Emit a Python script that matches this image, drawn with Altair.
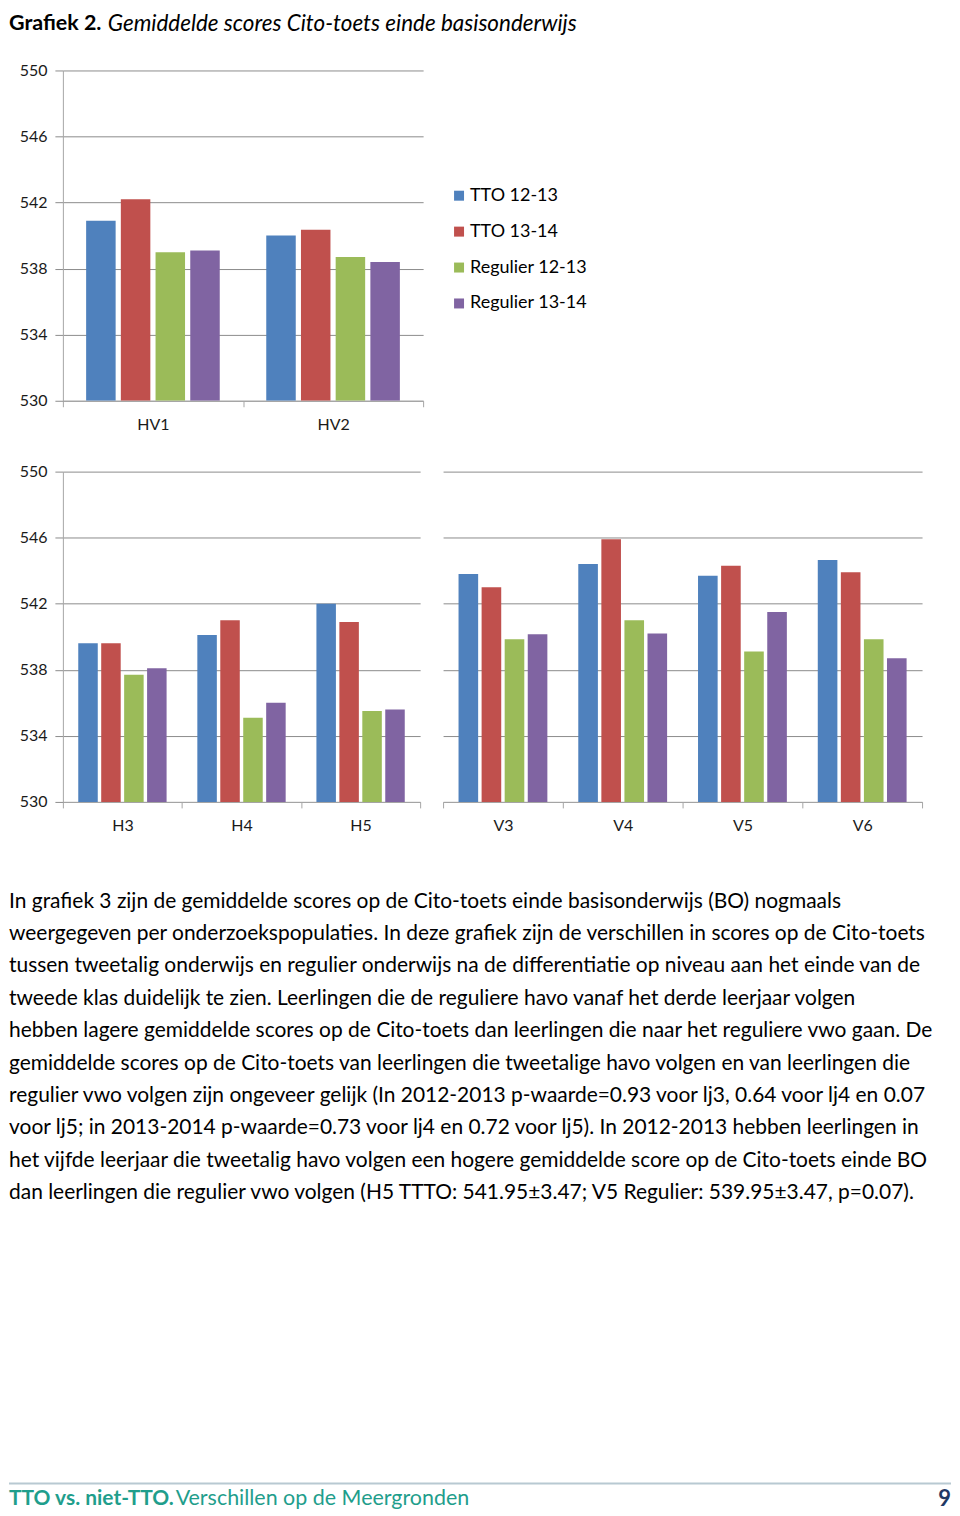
import altair as alt
import pandas as pd

FONT = "Lato"

series = ["TTO 12-13", "TTO 13-14", "Regulier 12-13", "Regulier 13-14"]
colors = ["#4F81BD", "#C0504D", "#9BBB59", "#8064A2"]
y_ticks = [530, 534, 538, 542, 546, 550]

hv_groups = ["HV1", "HV2"]
hv_tto_1213 = [540.9, 540.0]
hv_tto_1314 = [542.2, 540.35]
hv_reg_1213 = [539.0, 538.7]
hv_reg_1314 = [539.1, 538.4]

h_groups = ["H3", "H4", "H5"]
h_tto_1213 = [539.6, 540.1, 542.0]
h_tto_1314 = [539.6, 541.0, 540.9]
h_reg_1213 = [537.7, 535.1, 535.5]
h_reg_1314 = [538.1, 536.0, 535.6]

v_groups = ["V3", "V4", "V5", "V6"]
v_tto_1213 = [543.8, 544.4, 543.7, 544.65]
v_tto_1314 = [543.0, 545.9, 544.3, 543.9]
v_reg_1213 = [539.85, 541.0, 539.1, 539.85]
v_reg_1314 = [540.15, 540.2, 541.5, 538.7]

title_bold = "Grafiek 2."
title_rest = "Gemiddelde scores Cito-toets einde basisonderwijs"

paragraph_lines = [
    "In grafiek 3 zijn de gemiddelde scores op de Cito-toets einde basisonderwijs (BO) nogmaals",
    "weergegeven per onderzoekspopulaties. In deze grafiek zijn de verschillen in scores op de Cito-toets",
    "tussen tweetalig onderwijs en regulier onderwijs na de differentiatie op niveau aan het einde van de",
    "tweede klas duidelijk te zien. Leerlingen die de reguliere havo vanaf het derde leerjaar volgen",
    "hebben lagere gemiddelde scores op de Cito-toets dan leerlingen die naar het reguliere vwo gaan. De",
    "gemiddelde scores op de Cito-toets van leerlingen die tweetalige havo volgen en van leerlingen die",
    "regulier vwo volgen zijn ongeveer gelijk (In 2012-2013 p-waarde=0.93 voor lj3, 0.64 voor lj4 en 0.07",
    "voor lj5; in 2013-2014 p-waarde=0.73 voor lj4 en 0.72 voor lj5). In 2012-2013 hebben leerlingen in",
    "het vijfde leerjaar die tweetalig havo volgen een hogere gemiddelde score op de Cito-toets einde BO",
    "dan leerlingen die regulier vwo volgen (H5 TTTO: 541.95\u00b13.47; V5 Regulier: 539.95\u00b13.47, p=0.07).",
]
footer_bold = "TTO vs. niet-TTO."
footer_rest = "Verschillen op de Meergronden"
page_number = "9"


def to_long(groups, cols):
    rows = []
    for s, vals in zip(series, cols):
        for g, v in zip(groups, vals):
            rows.append({"group": g, "series": s, "score": v})
    return pd.DataFrame(rows)


GRID = "#8c8c8c"
DOMAIN = "#a6a6a6"
LABEL = "#1a1a1a"
color_scale = alt.Scale(domain=series, range=colors)


def left_y_axis(min_extent):
    return alt.Axis(values=y_ticks, format="d", grid=True, gridColor=GRID,
                    domainColor=DOMAIN, tickColor=GRID, tickSize=8, labelPadding=8,
                    labelFont=FONT, labelFontSize=16, labelColor=LABEL,
                    minExtent=min_extent)


def bar_chart(df, groups, width, y_axis, legend):
    return alt.Chart(df).mark_bar(clip=True).encode(
        x=alt.X("group:N", sort=groups, title=None,
                scale=alt.Scale(paddingInner=0, paddingOuter=0),
                axis=alt.Axis(labelAngle=0, tickBand="extent", tickSize=6,
                              tickColor=DOMAIN, domainColor=DOMAIN, labelPadding=10,
                              labelFont=FONT, labelFontSize=16, labelColor=LABEL,
                              grid=False)),
        xOffset=alt.XOffset("series:N", sort=series,
                            scale=alt.Scale(paddingInner=0.15, paddingOuter=0.67)),
        y=alt.Y("score:Q", title=None,
                scale=alt.Scale(domain=[530, 550], zero=False, nice=False, clamp=True),
                axis=y_axis),
        color=alt.Color("series:N", sort=series, scale=color_scale, legend=legend),
    ).properties(width=width, height=331)


legend_top = alt.Legend(title=None, orient="none", legendX=388, legendY=116.5,
                        symbolType="square", symbolSize=100, symbolStrokeWidth=0,
                        labelFont=FONT, labelFontSize=18, labelColor="#000",
                        rowPadding=18, labelOffset=2, padding=0)

top_bars = bar_chart(to_long(hv_groups, [hv_tto_1213, hv_tto_1314, hv_reg_1213, hv_reg_1314]),
                     hv_groups, 361, left_y_axis(54), legend_top)

t_bold = alt.Chart(pd.DataFrame({"t": [title_bold]})).mark_text(
    align="left", baseline="middle", font=FONT, fontSize=21.5, fontWeight="bold", color="#000"
).encode(x=alt.value(-54), y=alt.value(-47), text="t:N")
t_rest = alt.Chart(pd.DataFrame({"t": [title_rest]})).mark_text(
    align="left", baseline="middle", font=FONT, fontSize=22.5, fontStyle="italic", color="#000"
).encode(x=alt.value(45), y=alt.value(-47), text="t:N")

row_a = alt.layer(top_bars, t_bold, t_rest).properties(width=361, height=331)

h_chart = bar_chart(to_long(h_groups, [h_tto_1213, h_tto_1314, h_reg_1213, h_reg_1314]),
                    h_groups, 358, left_y_axis(53), None)
v_axis = alt.Axis(orient="right", values=y_ticks, grid=True, gridColor=GRID, domain=False,
                  ticks=False, labelOpacity=0, labelPadding=0, labelFontSize=16,
                  labelFont=FONT, minExtent=0)
v_chart = bar_chart(to_long(v_groups, [v_tto_1213, v_tto_1314, v_reg_1213, v_reg_1314]),
                    v_groups, 480, v_axis, None)

row_b = alt.hconcat(h_chart, v_chart, spacing=21).resolve_scale(
    color="independent", xOffset="independent", x="independent", y="independent"
).resolve_legend(color="independent")

LEFT = -54
para_df = pd.DataFrame({"line": list(range(len(paragraph_lines))), "text": paragraph_lines})
para = alt.Chart(para_df).mark_text(
    align="left", baseline="middle", font=FONT, fontSize=21, color="#000"
).encode(
    x=alt.value(LEFT),
    y=alt.Y("line:Q", scale=alt.Scale(domain=[0, 9], range=[58, 350]), axis=None),
    text="text:N",
)
rule = alt.Chart(pd.DataFrame({"a": [0]})).mark_rule(color="#b8c9d2", strokeWidth=2).encode(
    x=alt.value(LEFT), x2=alt.value(890), y=alt.value(641))
f_bold = alt.Chart(pd.DataFrame({"t": [footer_bold]})).mark_text(
    align="left", baseline="middle", font=FONT, fontSize=21, fontWeight="bold", color="#1f9e8c"
).encode(x=alt.value(LEFT), y=alt.value(657), text="t:N")
f_rest = alt.Chart(pd.DataFrame({"t": [footer_rest]})).mark_text(
    align="left", baseline="middle", font=FONT, fontSize=21.5, color="#1f9e8c"
).encode(x=alt.value(113), y=alt.value(657), text="t:N")
f_num = alt.Chart(pd.DataFrame({"t": [page_number]})).mark_text(
    align="right", baseline="middle", font=FONT, fontSize=22, fontWeight="bold", color="#1f3864"
).encode(x=alt.value(890), y=alt.value(657), text="t:N")

row_c = alt.layer(para, rule, f_bold, f_rest, f_num).properties(width=890, height=660)

charts = alt.vconcat(row_a, row_b, spacing=31).resolve_scale(
    color="independent", xOffset="independent", x="independent", y="independent"
).resolve_legend(color="independent")

chart = alt.vconcat(charts, row_c, spacing=10).resolve_scale(
    color="independent", xOffset="independent", x="independent", y="independent"
).resolve_legend(color="independent").properties(
    padding={"top": 3, "left": 0, "right": 0, "bottom": 0},
    background="white").configure_view(stroke=None)

chart.save("out.html", embed_options={"renderer": "svg", "actions": False})
